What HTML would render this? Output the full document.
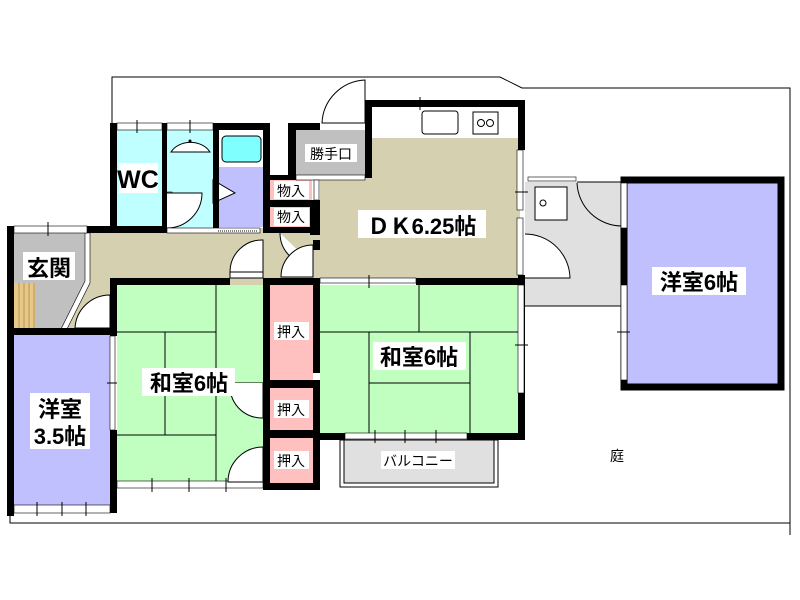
<!DOCTYPE html>
<html><head><meta charset="utf-8"><style>
html,body{margin:0;padding:0;background:#fff}
svg{display:block}
text{font-family:"Liberation Sans","Noto Sans CJK JP",sans-serif}
</style></head><body>
<svg width="800" height="600" viewBox="0 0 800 600" xmlns="http://www.w3.org/2000/svg">
<polyline points="112,125 112,77 500,77 522,88 790,88 790,535" fill="none" stroke="#000" stroke-width="1"/>
<polyline points="10,495 10,523 790,523 790,530" fill="none" stroke="#000" stroke-width="1"/>

<rect x="87" y="228" width="233" height="57" fill="#d4d0b0"/>
<polygon points="90,282 110,282 110,330 66,330" fill="#d4d0b0"/>
<rect x="320" y="138" width="200" height="142" fill="#d4d0b0"/>
<rect x="372" y="107" width="146" height="31" fill="#fff"/>
<rect x="422" y="111" width="36" height="23" rx="3" fill="#fff" stroke="#000"/>
<rect x="473" y="112" width="25" height="22" fill="#fff" stroke="#000"/>
<circle cx="481" cy="123" r="3.5" fill="none" stroke="#000"/><circle cx="490" cy="123" r="3.5" fill="none" stroke="#000"/>
<rect x="296" y="130" width="69" height="45" fill="#c0c0c0"/>
<rect x="117" y="130" width="45" height="98" fill="#c0ffff"/>
<rect x="167" y="130" width="46" height="98" fill="#c0ffff"/>
<path d="M171,152 A22,18 0 0 1 210,152 Z" fill="#fff" stroke="#000"/>
<circle cx="190" cy="141" r="1.5" fill="#000"/>
<rect x="167" y="192" width="5" height="36" fill="#fff" stroke="#000" stroke-width="0.6"/>
<path d="M167,193 L202,193 A35,35 0 0 1 167,228" fill="#fff" stroke="#000"/>
<rect x="213" y="130" width="50" height="37" fill="#fff"/>
<rect x="222" y="136" width="39" height="26" rx="4" fill="#80ffff" stroke="#000"/>
<rect x="219" y="167" width="44" height="60" fill="#c0c0ff"/>
<polygon points="213,180 235,193 213,203" fill="#fff" stroke="#000"/>
<rect x="270" y="180" width="42" height="20" fill="#ffc0c0"/>
<rect x="270" y="207" width="42" height="20" fill="#ffc0c0"/>
<polygon points="14,233 85,233 85,282 63,330 14,330" fill="#c0c0c0"/>
<rect x="14" y="283" width="21" height="45" fill="#e8c888"/>
<g stroke="#a08040" stroke-width="0.7"><line x1="19" y1="283" x2="19" y2="328"/><line x1="24" y1="283" x2="24" y2="328"/><line x1="29" y1="283" x2="29" y2="328"/><line x1="34" y1="283" x2="34" y2="328"/></g>
<polygon points="85,233 90,233 90,283 66,331 61,329 85,281" fill="#fff" stroke="#000" stroke-width="0.6"/>
<rect x="14" y="335" width="96" height="170" fill="#c0c0ff"/>
<rect x="117" y="285" width="148" height="196" fill="#c0ffc0"/>
<g stroke="#000" stroke-width="1" fill="none">
<line x1="216" y1="285" x2="216" y2="481"/>
<line x1="117" y1="332" x2="216" y2="332"/>
<line x1="165" y1="332" x2="165" y2="435"/>
<line x1="117" y1="435" x2="216" y2="435"/>
<line x1="216" y1="383" x2="265" y2="383"/>
</g>
<rect x="270" y="285" width="43" height="95" fill="#ffc0c0"/>
<rect x="270" y="388" width="43" height="43" fill="#ffc0c0"/>
<rect x="270" y="438" width="43" height="45" fill="#ffc0c0"/>
<rect x="320" y="285" width="198" height="148" fill="#c0ffc0"/>
<g stroke="#000" stroke-width="1" fill="none">
<line x1="419" y1="285" x2="419" y2="332"/>
<line x1="320" y1="332" x2="518" y2="332"/>
<line x1="369" y1="332" x2="369" y2="433"/>
<line x1="470" y1="332" x2="470" y2="433"/>
<line x1="369" y1="383" x2="470" y2="383"/>
</g>
<rect x="340" y="440" width="158" height="47" fill="#fff" stroke="#000"/>
<rect x="344" y="440" width="150" height="43" fill="#e0e0e0" stroke="#000"/>
<polygon points="525,182 622,182 622,306 525,306" fill="#e0e0e0"/>
<rect x="535" y="187" width="32" height="33" fill="#fff" stroke="#000"/>
<circle cx="543" cy="203" r="3" fill="none" stroke="#000"/>
<line x1="525" y1="306" x2="622" y2="306" stroke="#000"/>
<line x1="577" y1="182" x2="622" y2="182" stroke="#000"/>
<path d="M577,183 A45,45 0 0 0 622,226" fill="none" stroke="#000"/>
<path d="M525,234 A45,45 0 0 1 570,278 L525,278" fill="#fff" stroke="#000"/>
<rect x="528" y="177" width="48" height="4" fill="#fff" stroke="#000" stroke-width="0.6"/>
<rect x="624" y="180" width="157" height="207" fill="#c0c0ff" stroke="#000" stroke-width="7"/>
<rect x="621" y="183" width="6" height="45" fill="#fff" stroke="#000" stroke-width="0.6"/>
<rect x="621" y="285" width="6" height="95" fill="#fff" stroke="#000" stroke-width="0.6"/>

<g fill="#000">
<rect x="110" y="123" width="7" height="110"/>
<rect x="162" y="123" width="5" height="110"/>
<rect x="213" y="123" width="57" height="7"/>
<rect x="213" y="123" width="6" height="105"/>
<rect x="263" y="123" width="7" height="110"/>
<rect x="288" y="123" width="8" height="55"/>
<rect x="288" y="123" width="32" height="7"/>
<rect x="365" y="100" width="7" height="78"/>
<rect x="365" y="100" width="160" height="7"/>
<rect x="518" y="100" width="7" height="50"/>
<rect x="518" y="275" width="7" height="165"/>
<rect x="270" y="175" width="50" height="5"/>
<rect x="270" y="200" width="50" height="7"/>
<rect x="310" y="200" width="10" height="35"/>
<rect x="263" y="227" width="57" height="6"/>
<rect x="87" y="226" width="80" height="7"/>
<rect x="7" y="226" width="7" height="290"/>
<rect x="7" y="328" width="110" height="7"/>
<rect x="110" y="278" width="7" height="58"/>
<rect x="110" y="278" width="120" height="7"/>
<rect x="263" y="278" width="57" height="7"/>
<rect x="263" y="278" width="7" height="212"/>
<rect x="313" y="278" width="7" height="95"/>
<rect x="313" y="380" width="7" height="110"/>
<rect x="263" y="380" width="57" height="8"/>
<rect x="263" y="430" width="57" height="8"/>
<rect x="263" y="483" width="57" height="7"/>
<rect x="318" y="433" width="27" height="7"/>
<rect x="467" y="433" width="58" height="7"/>
<rect x="416" y="278" width="109" height="7"/>
<rect x="110" y="430" width="7" height="83"/>
<rect x="313" y="240" width="7" height="10"/>
</g>
<g fill="#fff" stroke="#000" stroke-width="0.6">
<rect x="117" y="123" width="45" height="7"/>
<rect x="167" y="123" width="46" height="7"/>
<rect x="167" y="228" width="93" height="5"/>
<rect x="14" y="226" width="73" height="7"/>
<rect x="296" y="175" width="69" height="5"/>
<rect x="320" y="278" width="96" height="5"/>
<rect x="517" y="150" width="6" height="60"/>
<rect x="517" y="218" width="6" height="57"/>
<rect x="518" y="285" width="6" height="108"/>
<rect x="345" y="433" width="122" height="6"/>
<rect x="117" y="481" width="146" height="7"/>
<rect x="14" y="505" width="96" height="8"/>
<rect x="110" y="336" width="5" height="94"/>
<rect x="314" y="180" width="5" height="20"/>
</g>
<line x1="218" y1="231" x2="258" y2="231" stroke="#000" stroke-dasharray="1,1"/>
<g fill="#fff" stroke="#000" stroke-width="1">
<path d="M365,80 A45,45 0 0 0 322,123 L365,123 Z"/>
<path d="M263,240 A32,32 0 0 0 230,272 L263,272 Z"/>
<rect x="230" y="272" width="33" height="6"/>
<path d="M110,295 A35,35 0 0 0 75,328 L110,328 Z"/>
<path d="M280,233 A32,32 0 0 0 313,265"/>
<path d="M313,245 A32,32 0 0 0 281,277 L313,277 Z"/>
<path d="M230,383 A32,32 0 0 0 263,418 L263,383"/>
<path d="M263,447 A35,35 0 0 0 228,482 L263,482 Z"/>
</g>
<g stroke="#000" stroke-width="1">
<line x1="137" y1="120" x2="137" y2="133"/><line x1="190" y1="120" x2="190" y2="133"/>
<line x1="48" y1="222" x2="48" y2="236"/><line x1="420" y1="97" x2="420" y2="110"/>
<line x1="369" y1="275" x2="369" y2="288"/><line x1="515" y1="192" x2="528" y2="192"/>
<line x1="515" y1="345" x2="528" y2="345"/><line x1="315" y1="332" x2="325" y2="332"/>
<line x1="107" y1="383" x2="117" y2="383"/><line x1="617" y1="332" x2="630" y2="332"/>
<line x1="375" y1="430" x2="375" y2="443"/><line x1="405" y1="430" x2="405" y2="443"/><line x1="436" y1="430" x2="436" y2="443"/>
<line x1="152" y1="478" x2="152" y2="492"/><line x1="189" y1="478" x2="189" y2="492"/><line x1="226" y1="478" x2="226" y2="492"/>
<line x1="37" y1="502" x2="37" y2="516"/><line x1="62" y1="502" x2="62" y2="516"/><line x1="86" y1="502" x2="86" y2="516"/>
</g>

<g fill="#fff">
<rect x="119" y="163" width="39" height="30"/>
<rect x="23" y="252" width="52" height="28"/>
<rect x="30" y="393" width="60" height="56"/>
<rect x="142" y="368" width="93" height="28"/>
<rect x="358" y="210" width="128" height="28"/>
<rect x="373" y="342" width="93" height="28"/>
<rect x="652" y="267" width="94" height="28"/>
<rect x="305" y="144" width="52" height="18"/>
<rect x="274" y="181" width="35" height="18"/>
<rect x="274" y="208" width="35" height="18"/>
<rect x="274" y="322" width="35" height="18"/>
<rect x="274" y="400" width="35" height="18"/>
<rect x="274" y="451" width="35" height="18"/>
<rect x="381" y="451" width="74" height="18"/>
</g>
<g font-weight="bold" font-size="22" text-anchor="middle" fill="#000">
<text x="138" y="188" font-size="25">WC</text>
<text x="49" y="276">玄関</text>
<text x="60" y="417">洋室</text>
<text x="60" y="444">3.5帖</text>
<text x="189" y="391">和室6帖</text>
<text x="422" y="234">ＤＫ6.25帖</text>
<text x="419" y="365">和室6帖</text>
<text x="699" y="290">洋室6帖</text>
</g>
<g font-size="14" text-anchor="middle" fill="#000">
<text x="331" y="159">勝手口</text>
<text x="291" y="196">物入</text>
<text x="291" y="222">物入</text>
<text x="291" y="337">押入</text>
<text x="291" y="415">押入</text>
<text x="291" y="466">押入</text>
<text x="418" y="466">バルコニー</text>
<text x="617" y="461">庭</text>
</g>
</svg>
</body></html>
